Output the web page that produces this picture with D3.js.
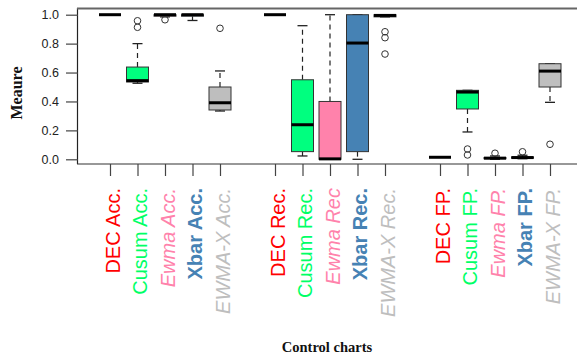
<!DOCTYPE html>
<html><head><meta charset="utf-8">
<script src="https://cdn.jsdelivr.net/npm/d3@7"></script>
<style>body{margin:0;background:#fff}svg{display:block}</style>
</head><body><svg id="c" width="577" height="355"></svg>
<script>
const categories = ["DEC Acc.","Cusum Acc.","Ewma Acc.","Xbar Acc.","EWMA-X Acc.",
  "DEC Rec.","Cusum Rec.","Ewma Rec","Xbar Rec.","EWMA-X Rec.",
  "DEC FP.","Cusum FP.","Ewma FP.","Xbar FP.","EWMA-X FP."];
const slots = [1,2,3,4,5,7,8,9,10,11,13,14,15,16,17];
const methods = ["DEC","Cusum","Ewma","Xbar","EWMA-X"];
const whiskerLow  = [1.0,0.526,0.985,0.96,0.334, 1.0,0.023,0.0,0.0,0.985, 0.014,0.189,0.0,0.004,0.394];
const q1          = [1.0,0.535,0.99,0.99,0.341, 1.0,0.053,0.0,0.053,0.985, 0.014,0.348,0.004,0.008,0.50];
const median      = [1.0,0.544,1.0,1.0,0.391, 1.0,0.239,0.003,0.804,0.995, 0.014,0.465,0.008,0.012,0.61];
const q3          = [1.0,0.638,1.0,1.0,0.50, 1.0,0.55,0.40,1.0,1.0, 0.014,0.477,0.012,0.016,0.661];
const whiskerHigh = [1.0,0.80,1.0,1.0,0.611, 1.0,0.924,1.0,1.0,1.0, 0.014,0.477,0.023,0.028,0.661];
const outliers    = [[],[0.958,0.913],[0.965],[],[0.906], [],[],[],[],[0.882,0.841,0.728], [],[0.071,0.03],[0.042],[0.052],[0.104]];
const yTicks = [0,0.2,0.4,0.6,0.8,1.0];
const fills = ["#FF0000","#00FF7F","#FF82AB","#4682B4","#BEBEBE"];
const labelColors = ["#FF0000","#00FF66","#FF82AB","#4682B4","#BEBEBE"];

const svg = d3.select("#c");
const y = d3.scaleLinear().domain([0,1]).range([159.3,14.7]);
const x = d3.scaleLinear().domain([1,17]).range([110,550]);
const bw = 22, cw = 10;

// frame
svg.append("line").attr("x1",77.5).attr("x2",77.5).attr("y1",8).attr("y2",164).attr("stroke","#222").attr("stroke-width",1.2);
svg.append("line").attr("x1",77).attr("x2",577).attr("y1",8.5).attr("y2",8.5).attr("stroke","#666").attr("stroke-width",2);
svg.append("line").attr("x1",77).attr("x2",577).attr("y1",164).attr("y2",164).attr("stroke","#333").attr("stroke-width",1.2);

// y axis
const yAxis = d3.axisLeft(y).tickValues(yTicks).tickFormat(d3.format(".1f")).tickSize(12).tickPadding(7);
const ga = svg.append("g").attr("transform","translate(78,0)").call(yAxis);
ga.select(".domain").remove();
ga.selectAll(".tick line").attr("stroke","#444").attr("stroke-width",1.2);
ga.selectAll(".tick text").attr("font-family","Liberation Sans, Arial, sans-serif").attr("font-size",12.5).attr("fill","#222");

// x axis ticks
const xAxis = d3.axisBottom(x).tickValues(slots).tickFormat("").tickSize(12);
const gx = svg.append("g").attr("transform","translate(0,164)").call(xAxis);
gx.select(".domain").remove();
gx.selectAll(".tick line").attr("stroke","#444").attr("stroke-width",1.2);

// boxes
const data = categories.map((c,i)=>({c,i,s:slots[i],m:i%5}));
const g = svg.append("g");
data.forEach(d=>{
  const cx = x(d.s), i = d.i;
  if (whiskerHigh[i] > q3[i]) {
    g.append("line").attr("x1",cx).attr("x2",cx).attr("y1",y(q3[i])).attr("y2",y(whiskerHigh[i]))
      .attr("stroke","#222").attr("stroke-width",1.2).attr("stroke-dasharray","5,4");
  }
  if (whiskerLow[i] < q1[i]) {
    g.append("line").attr("x1",cx).attr("x2",cx).attr("y1",y(q1[i])).attr("y2",y(whiskerLow[i]))
      .attr("stroke","#222").attr("stroke-width",1.2).attr("stroke-dasharray","5,4");
  }
  [whiskerLow[i],whiskerHigh[i]].forEach(v=>{
    g.append("line").attr("x1",cx-cw/2).attr("x2",cx+cw/2).attr("y1",y(v)).attr("y2",y(v)).attr("stroke","#222").attr("stroke-width",1.3);
  });
  g.append("rect").attr("x",cx-bw/2).attr("width",bw).attr("y",y(q3[i])).attr("height",Math.max(0,y(q1[i])-y(q3[i])))
    .attr("fill",fills[d.m]).attr("stroke","#333").attr("stroke-width",1);
  g.append("line").attr("x1",cx-bw/2).attr("x2",cx+bw/2).attr("y1",y(median[i])).attr("y2",y(median[i]))
    .attr("stroke","#000").attr("stroke-width",3);
  outliers[i].forEach(v=>{
    g.append("circle").attr("cx",cx).attr("cy",y(v)).attr("r",3.3).attr("fill","none").attr("stroke","#333").attr("stroke-width",1);
  });
});

// category labels
svg.append("g").selectAll("text").data(data).join("text")
  .attr("transform",d=>`translate(${x(d.s)+9.5},188) rotate(-90)`)
  .attr("text-anchor","end")
  .attr("font-family","Liberation Sans, Arial, sans-serif")
  .attr("font-size",20)
  .attr("font-style",d=>(d.m===2||d.m===4)?"italic":"normal")
  .attr("font-weight",d=>d.m===3?"bold":"normal")
  .attr("fill",d=>labelColors[d.m])
  .text(d=>d.c);

// axis titles
svg.append("text").attr("transform","translate(22,93) rotate(-90)").attr("text-anchor","middle")
  .attr("font-family","Liberation Serif, Times New Roman, serif").attr("font-weight","bold").attr("font-size",16)
  .attr("fill","#111").text("Meaure");
svg.append("text").attr("x",327).attr("y",352).attr("text-anchor","middle")
  .attr("font-family","Liberation Serif, Times New Roman, serif").attr("font-weight","bold").attr("font-size",14.5)
  .attr("fill","#111").text("Control charts");
</script></body></html>
